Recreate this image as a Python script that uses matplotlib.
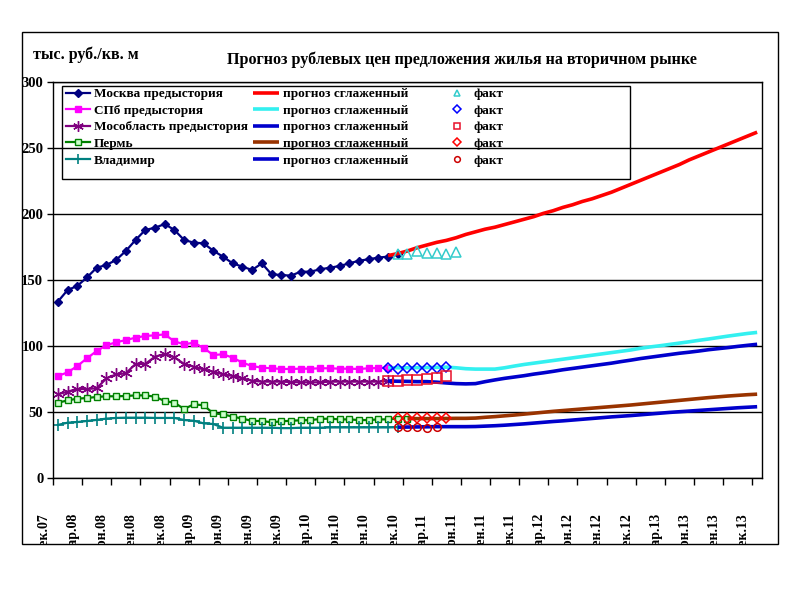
import numpy as np
import matplotlib
matplotlib.use('Agg')
import matplotlib.pyplot as plt
from matplotlib.patches import Rectangle
from matplotlib.transforms import Bbox, TransformedBbox, blended_transform_factory

plt.rcParams['font.family'] = ['Liberation Serif', 'DejaVu Serif']
plt.rcParams['font.weight'] = 'bold'

# ---------------- data ----------------
n_months = 73  # Dec 2007 .. Dec 2013
tick_labels = ['дек.07', 'мар.08', 'июн.08', 'сен.08', 'дек.08', 'мар.09', 'июн.09',
               'сен.09', 'дек.09', 'мар.10', 'июн.10', 'сен.10', 'дек.10', 'мар.11',
               'июн.11', 'сен.11', 'дек.11', 'мар.12', 'июн.12', 'сен.12', 'дек.12',
               'мар.13', 'июн.13', 'сен.13', 'дек.13']

moscow_hist = [133.6, 142.4, 145.5, 152.0, 159.3, 161.4, 165.2, 172.0, 180.3, 187.9,
               189.6, 192.4, 187.9, 180.3, 178.3, 177.8, 172.2, 167.7, 162.6, 160.1,
               157.6, 162.6, 154.3, 153.8, 153.3, 156.3, 156.3, 158.1, 159.3, 160.6,
               162.6, 164.6, 165.7, 167.0, 167.7, 169.7]
spb_hist = [77.3, 80.0, 84.8, 90.7, 96.2, 100.6, 102.8, 104.5, 106.3, 107.6,
            108.1, 108.8, 103.5, 101.3, 102.5, 98.5, 93.2, 93.7, 91.2, 87.4,
            84.8, 83.6, 83.1, 82.6, 82.6, 82.8, 82.8, 83.1, 83.1, 82.8,
            82.8, 82.6, 83.1, 83.3, 83.6]
mosobl_hist = [63.4, 65.4, 67.4, 67.4, 68.0, 75.5, 78.5, 79.3, 86.4, 86.4,
               91.9, 93.9, 91.4, 86.4, 84.3, 82.3, 80.6, 78.5, 77.3, 75.5,
               73.7, 73.0, 73.0, 73.0, 72.7, 72.5, 72.5, 72.5, 73.0, 73.0,
               73.0, 73.0, 73.0, 73.0, 73.5]
perm_hist = [57.0, 58.8, 60.1, 60.6, 61.4, 61.9, 61.9, 62.1, 62.6, 62.6,
             61.6, 58.3, 57.0, 52.3, 55.8, 55.1, 49.0, 48.2, 46.5, 45.0,
             43.2, 43.2, 42.2, 42.9, 43.4, 43.7, 43.9, 44.7, 45.0, 44.4,
             44.4, 43.9, 43.9, 44.4, 44.4, 45.0, 45.0]
vlad_hist = [40.2, 41.9, 42.4, 43.2, 44.0, 45.0, 45.5, 45.7, 45.7, 45.7,
             45.5, 45.5, 45.5, 43.9, 43.4, 41.4, 40.9, 38.1, 38.1, 38.1,
             38.1, 38.1, 38.1, 37.8, 37.8, 38.1, 38.1, 38.1, 38.3, 38.3,
             38.3, 38.3, 38.3, 38.3, 38.3, 38.5]

moscow_fc = [168.5, 170.0, 172.0, 174.5, 176.5, 178.5, 180.0, 182.0, 184.5, 186.5,
             188.5, 190.0, 192.0, 194.0, 196.0, 198.0, 200.5, 202.5, 205.0, 207.0,
             209.5, 211.5, 214.0, 216.5, 219.5, 222.5, 225.5, 228.5, 231.5, 234.5,
             237.5, 241.0, 244.0, 247.0, 250.0, 253.0, 256.0, 259.0, 262.0]
spb_fc = [83.6, 83.5, 83.5, 83.6, 83.7, 83.8, 84.0, 83.5, 82.8, 82.5,
          82.5, 82.5, 83.5, 84.8, 86.0, 87.0, 88.0, 89.0, 90.0, 91.0,
          92.0, 93.0, 94.0, 95.0, 96.0, 97.0, 98.3, 99.3, 100.2, 101.2,
          102.2, 103.2, 104.3, 105.3, 106.4, 107.5, 108.5, 109.5, 110.3]
mosobl_fc = [73.5, 73.3, 73.2, 73.0, 73.0, 72.6, 72.0, 71.5, 71.3, 71.5,
             73.0, 74.3, 75.5, 76.5, 77.5, 78.7, 79.7, 80.8, 82.0, 83.0,
             84.0, 85.0, 86.0, 87.0, 88.2, 89.3, 90.5, 91.5, 92.5, 93.5,
             94.5, 95.3, 96.2, 97.2, 98.0, 98.8, 99.7, 100.5, 101.3]
perm_fc = [45.0, 45.0, 45.0, 45.0, 45.1, 45.2, 45.2, 45.4, 46.0, 46.5,
           47.1, 47.7, 48.4, 49.1, 49.8, 50.5, 51.1, 51.7, 52.3, 52.9,
           53.5, 54.1, 54.7, 55.3, 56.0, 56.7, 57.4, 58.1, 58.8, 59.5,
           60.2, 60.9, 61.5, 62.1, 62.6, 63.1, 63.5]
vlad_fc = [38.5, 38.6, 38.7, 38.8, 38.9, 38.9, 38.9, 38.9, 39.0, 39.3,
           39.6, 40.0, 40.5, 41.0, 41.6, 42.2, 42.8, 43.3, 43.9, 44.5,
           45.1, 45.7, 46.3, 46.8, 47.3, 47.9, 48.5, 49.1, 49.7, 50.2,
           50.7, 51.2, 51.7, 52.2, 52.7, 53.2, 53.6, 54.0]

moscow_fact = [169.7, 169.5, 172.2, 170.5, 170.2, 169.9, 171.2]
spb_fact = [83.6, 82.6, 83.1, 83.6, 83.6, 83.6, 83.8]
mosobl_fact = [73.5, 73.5, 74.2, 74.2, 75.0, 76.0, 77.3]
perm_fact = [45.5, 45.5, 45.8, 45.8, 45.8, 45.8]
vlad_fact = [38.5, 38.5, 38.5, 38.2, 38.5]

# series start months (index of the first month in the series)
start = {'moscow_fc': 34, 'spb_fc': 34, 'mosobl_fc': 34, 'perm_fc': 36, 'vlad_fc': 35,
         'moscow_fact': 35, 'spb_fact': 34, 'mosobl_fact': 34, 'perm_fact': 35,
         'vlad_fact': 35}


def xs(values, s=0):
    return np.arange(s, s + len(values))


# ---------------- figure ----------------
W, H = 800, 600
fig = plt.figure(figsize=(8, 6), dpi=100)
fig.patch.set_facecolor('white')
ax = fig.add_axes([53 / W, 1 - 478 / H, 709 / W, 396 / H])

# outer chart frame
fig.patches.append(Rectangle((22 / W, 1 - 544 / H), 756 / W, 512 / H,
                             transform=fig.transFigure, fill=False,
                             edgecolor='black', linewidth=1.0))

hist_style = dict(linewidth=1.6)
h_mos, = ax.plot(xs(moscow_hist), moscow_hist, color='#000080', marker='D',
                 markersize=4.5, **hist_style)
h_spb, = ax.plot(xs(spb_hist), spb_hist, color='#FF00FF', marker='s',
                 markersize=5, **hist_style)
h_mo, = ax.plot(xs(mosobl_hist), mosobl_hist, color='#800080', marker=(6, 2, 0),
                markersize=9, markeredgewidth=1.0, **hist_style)
h_perm, = ax.plot(xs(perm_hist), perm_hist, color='#008000', marker='s',
                  markersize=5, markerfacecolor='#CCFFCC', markeredgecolor='#008000',
                  markeredgewidth=1.0, **hist_style)
h_vl, = ax.plot(xs(vlad_hist), vlad_hist, color='#008080', marker='+',
                markersize=9, markeredgewidth=1.2, **hist_style)

fc_style = dict(linewidth=2.6, solid_capstyle='butt')
f1, = ax.plot(xs(moscow_fc, start['moscow_fc']), moscow_fc, color='#FF0000', **fc_style)
f2, = ax.plot(xs(spb_fc, start['spb_fc']), spb_fc, color='#33F0F0', **fc_style)
f3, = ax.plot(xs(mosobl_fc, start['mosobl_fc']), mosobl_fc, color='#0000CC', **fc_style)
f4, = ax.plot(xs(perm_fc, start['perm_fc']), perm_fc, color='#993300', **fc_style)
f5, = ax.plot(xs(vlad_fc, start['vlad_fc']), vlad_fc, color='#0000CC', **fc_style)

fact_style = dict(linestyle='none', markerfacecolor='none', markeredgewidth=1.1)
a1, = ax.plot(xs(moscow_fact, start['moscow_fact']), moscow_fact, marker='^',
              markersize=6.5, color='#33CCCC', **fact_style)
a2, = ax.plot(xs(spb_fact, start['spb_fact']), spb_fact, marker='D',
              markersize=5.5, color='#0000FF', **fact_style)
a3, = ax.plot(xs(mosobl_fact, start['mosobl_fact']), mosobl_fact, marker='s',
              markersize=6.5, color='#E8102A', **fact_style)
a4, = ax.plot(xs(perm_fact, start['perm_fact']), perm_fact, marker='D',
              markersize=5, color='#FF0000', **fact_style)
a5, = ax.plot(xs(vlad_fact, start['vlad_fact']), vlad_fact, marker='o',
              markersize=5.5, color='#CC0000', **fact_style)

# axes
ax.set_xlim(-0.5, n_months - 0.5)
ax.set_ylim(0, 300)
ax.set_yticks(np.arange(0, 301, 50))
ax.tick_params(axis='y', direction='out', length=4, width=1, pad=3,
               labelsize=10.5, colors='black')
for lab in ax.get_yticklabels():
    lab.set_fontweight('bold')
ax.set_xticks(np.arange(-0.5, n_months - 0.5, 3))
ax.set_xticklabels([])
ax.tick_params(axis='x', direction='out', length=5, width=1)
ax.yaxis.grid(True, color='black', linewidth=1.0)
ax.set_axisbelow(True)
for sp in ax.spines.values():
    sp.set_color('black')
    sp.set_linewidth(1.0)

# rotated category labels, clipped by the chart frame
clip = TransformedBbox(Bbox.from_extents(0, 1 - 544 / H, 1, 1), fig.transFigure)
trans = blended_transform_factory(ax.transData, ax.transAxes)
for i, lab in enumerate(tick_labels):
    t = ax.text(i * 3 - 1.45, -35 / 396, lab, transform=trans, rotation=90,
                ha='center', va='top', fontsize=10, fontweight='bold',
                clip_on=True)
    t.set_clip_box(clip)

# titles
fig.text(462 / W, 1 - 60 / H, 'Прогноз рублевых цен предложения жилья на вторичном рынке',
         ha='center', va='center', fontsize=11.6, fontweight='bold')
fig.text(33 / W, 1 - 55 / H, 'тыс. руб./кв. м', ha='left', va='center',
         fontsize=11.5, fontweight='bold')

# legend (three columns + frame)
leg_kw = dict(loc='upper left', frameon=False, borderpad=0, borderaxespad=0,
              labelspacing=0.33, prop={'weight': 'bold', 'size': 9.5})
top = 1 - 88 / H
fig.legend([h_mos, h_spb, h_mo, h_perm, h_vl],
           ['Москва предыстория', 'СПб предыстория', 'Мособласть предыстория',
            'Пермь', 'Владимир'],
           bbox_to_anchor=(66 / W, top), handlelength=1.85, handletextpad=0.25,
           markerscale=0.85, **leg_kw)
fig.legend([f1, f2, f3, f4, f5], ['прогноз сглаженный'] * 5,
           bbox_to_anchor=(253 / W, top), handlelength=2.0, handletextpad=0.25,
           **leg_kw)
fig.legend([a1, a2, a3, a4, a5], ['факт'] * 5,
           bbox_to_anchor=(450 / W, top), handlelength=1.0, handletextpad=0.75,
           markerscale=0.75, **leg_kw)
fig.patches.append(Rectangle((62 / W, 1 - 179 / H), 568 / W, 93 / H,
                             transform=fig.transFigure, fill=False,
                             edgecolor='black', linewidth=1.0, zorder=5))

fig.savefig('out.png', dpi=100, facecolor='white')
